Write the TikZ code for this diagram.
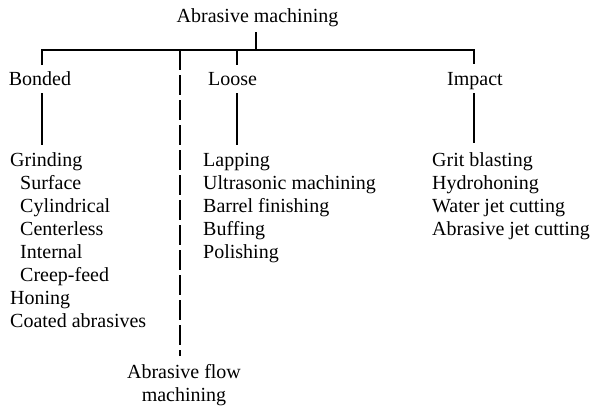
\documentclass[tikz,border=0pt]{standalone}
\usepackage{fontspec}
\setmainfont{Liberation Serif}
\begin{document}
\begin{tikzpicture}[x=1pt,y=-1pt,
  font=\fontsize{20}{23}\selectfont,
  lbl/.style={inner sep=0pt, anchor=base},
  txt/.style={inner sep=0pt, anchor=base west},
  ln/.style={line width=1.7pt},
  dln/.style={line width=1.7pt, dash pattern=on 20pt off 5pt}]
\useasboundingbox (0,0) rectangle (598,407);
% headings
\node[lbl] (title) at (257.5,22) {Abrasive machining};
\node[lbl] (bonded) at (40,85) {Bonded};
\node[lbl] (loose) at (232.5,85) {Loose};
\node[lbl] (impact) at (475,85) {Impact};
\node[lbl] (afm1) at (184,378) {Abrasive flow};
\node[lbl] (afm2) at (184,401) {machining};
% bonded list
\node[txt] (b1) at (10,166) {Grinding};
\node[txt] (b2) at (20,189) {Surface};
\node[txt] (b3) at (20,212) {Cylindrical};
\node[txt] (b4) at (20,235) {Centerless};
\node[txt] (b5) at (20,258) {Internal};
\node[txt] (b6) at (20,281) {Creep-feed};
\node[txt] (b7) at (10,304) {Honing};
\node[txt] (b8) at (10,327) {Coated abrasives};
% loose list
\node[txt] (l1) at (203,166) {Lapping};
\node[txt] (l2) at (203,189) {Ultrasonic machining};
\node[txt] (l3) at (203,212) {Barrel finishing};
\node[txt] (l4) at (203,235) {Buffing};
\node[txt] (l5) at (203,258) {Polishing};
% impact list
\node[txt] (i1) at (432,166) {Grit blasting};
\node[txt] (i2) at (432,189) {Hydrohoning};
\node[txt] (i3) at (432,212) {Water jet cutting};
\node[txt] (i4) at (432,235) {Abrasive jet cutting};
% joints
\coordinate (tstem) at (256,32);
\coordinate (tbar) at (256,50);
\coordinate (bondTop) at (42,65);
\coordinate (impTop) at (474,64);
\coordinate (impBar) at (474,50);
\coordinate (looseBar) at (237,50);
\coordinate (looseTop) at (237,65);
\coordinate (dashBar) at (180,50);
\coordinate (dashBot) at (180,356);
\coordinate (bondA) at (42,93);
\coordinate (bondB) at (42,145);
\coordinate (looseA) at (237,93);
\coordinate (looseB) at (237,145);
\coordinate (impA) at (474,93);
\coordinate (impB) at (474,143);
% connectors
\draw[ln] (tstem) -- (tbar);
\draw[ln] (bondTop) |- (impBar) -- (impTop);
\draw[ln] (looseBar) -- (looseTop);
\draw[dln] (dashBar) -- (dashBot);
\draw[ln] (bondA) -- (bondB);
\draw[ln] (looseA) -- (looseB);
\draw[ln] (impA) -- (impB);
\end{tikzpicture}
\end{document}
